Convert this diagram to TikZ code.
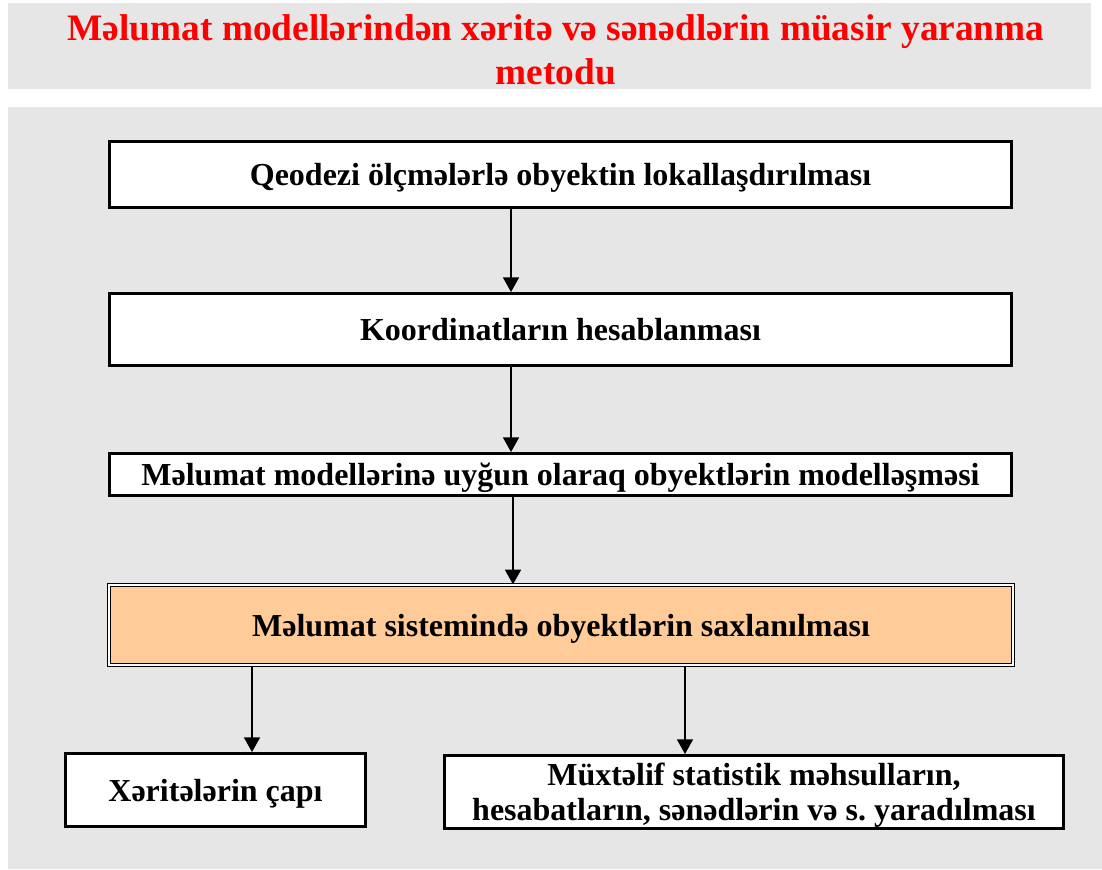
\documentclass[tikz,border=0pt]{standalone}
\usepackage{fontspec}
\setmainfont{Liberation Serif}
\usetikzlibrary{arrows.meta}
\definecolor{panelgray}{HTML}{E6E6E6}
\definecolor{storeorange}{HTML}{FFCC99}

\begin{document}
\begin{tikzpicture}[x=0.75pt,y=-0.75pt,
	stepbox/.style={rectangle,draw=black,line width=2.25pt,fill=white,inner sep=0pt,align=center,text depth=0pt,
		font=\bfseries\fontsize{24}{27}\selectfont,minimum width=676.5pt},
	flow/.style={line width=1.3pt,-{Triangle[length=11pt,width=12pt]}}]
	\useasboundingbox (0,0) rectangle (1102,869);
	\fill[panelgray] (8,3) rectangle (1091,89);
	\fill[panelgray] (8,107) rectangle (1102,869);
	\node (title) at (556,50) [align=center,text=red,font=\bfseries\fontsize{28}{33}\selectfont] {Məlumat modellərindən xəritə və sənədlərin müasir yaranma\\metodu};
	\node (geo) at (560.5,174.5) [stepbox,minimum height=49.5pt] {Qeodezi ölçmələrlə obyektin lokallaşdırılması};
	\node (coord) at (560.5,329.5) [stepbox,minimum height=54pt] {Koordinatların hesablanması};
	\node (model) at (560.5,474.5) [stepbox,minimum height=31.5pt] {Məlumat modellərinə uyğun olaraq obyektlərin modelləşməsi};
	\node (store) at (561,625) [stepbox,fill=storeorange,line width=1pt,double=white,double distance=1pt,minimum width=678pt,minimum height=60pt] {Məlumat sistemində obyektlərin saxlanılması};
	\node (print) at (215.5,790) [stepbox,minimum width=225pt,minimum height=54.75pt] {Xəritələrin çapı};
	\node (docs) at (754,792) [stepbox,minimum width=464.25pt,minimum height=54.75pt,font=\bfseries\fontsize{24}{26.5}\selectfont] {Müxtəlif statistik məhsulların,\\hesabatların, sənədlərin və s.\ yaradılması};
	\coordinate (c1) at (511,0);
	\coordinate (c2) at (513,0);
	\coordinate (c3) at (252,0);
	\coordinate (c4) at (685,0);
	\draw [flow] (geo.south -| c1) -- (coord.north -| c1);
	\draw [flow] (coord.south -| c1) -- (model.north -| c1);
	\draw [flow] (model.south -| c2) -- (store.north -| c2);
	\draw [flow] (store.south -| c3) -- (print.north -| c3);
	\draw [flow] (store.south -| c4) -- (docs.north -| c4);
\end{tikzpicture}
\end{document}
